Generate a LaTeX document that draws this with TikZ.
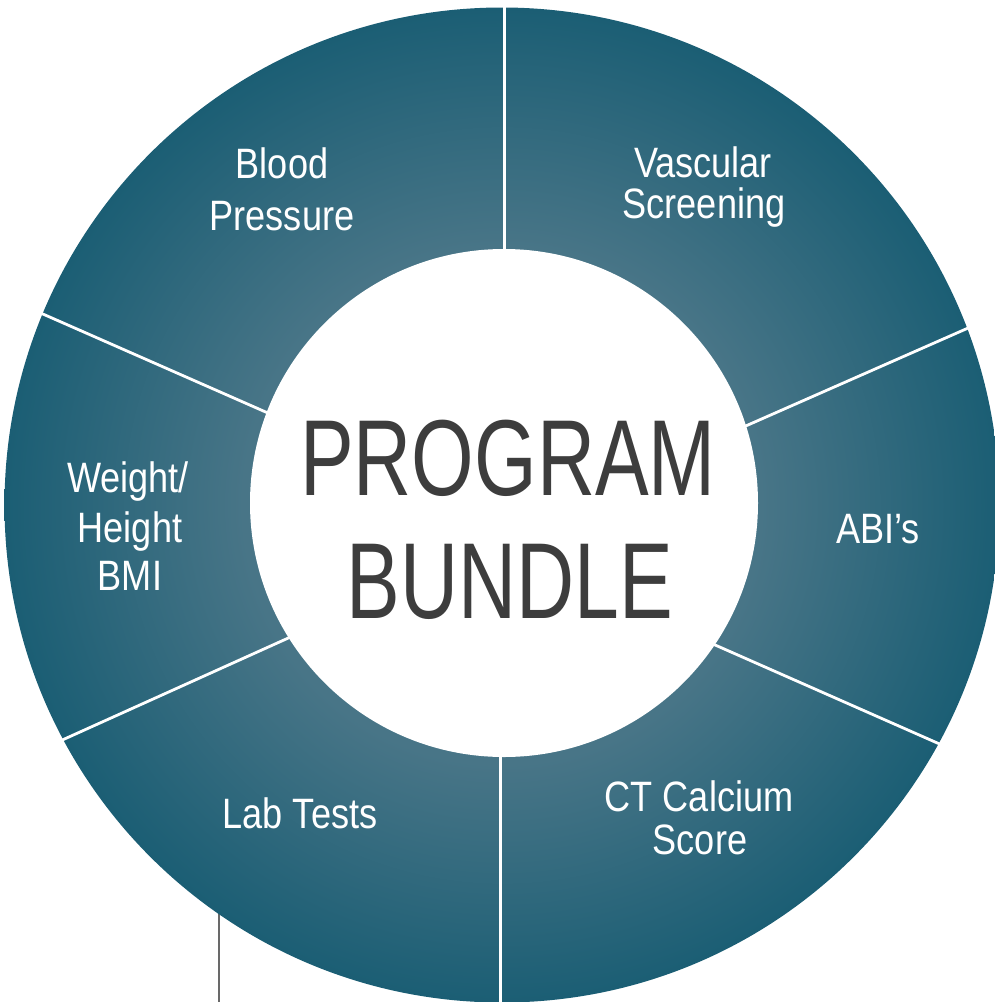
\documentclass[tikz,border=0pt]{standalone}
\usepackage{fontspec}
\setmainfont{Liberation Sans}
\newfontfamily\labelfont{Liberation Sans}[FakeStretch=0.85]
\newfontfamily\titlefont{Liberation Sans}[FakeStretch=0.745]
\definecolor{ringdark}{RGB}{27,94,116}
\definecolor{ringlight}{RGB}{72,117,135}
\definecolor{titlegray}{RGB}{61,61,61}
\definecolor{stemgray}{RGB}{105,105,105}
\pgfdeclareradialshading{ringshade}{\pgfpointorigin}{color(0bp)=(ringlight); color(13bp)=(ringlight); color(25bp)=(ringdark); color(50bp)=(ringdark)}
\begin{document}
\begin{tikzpicture}[x=1pt,y=-1pt,
  seplabel/.style={white, anchor=base, inner sep=0pt, font=\labelfont\fontsize{42.5}{42.5}\selectfont},
  titletext/.style={titlegray, anchor=base, inner sep=0pt, font=\titlefont\fontsize{108}{108}\selectfont},
  separator/.style={white, line width=2.8pt},
  stem/.style={stemgray, line width=2.4pt}]
\useasboundingbox (0,0) rectangle (995,1002);
% stem below the ring
\coordinate (stemtop) at (219,880);
\coordinate (stembot) at (219,1002);
\draw[stem] (stemtop) -- (stembot);
% ring
\path[shading=ringshade] (502,505) circle[radius=497.5];
% separator end points
\coordinate (t1) at (504.5,0);   \coordinate (t2) at (504.5,300);
\coordinate (b1) at (500.6,700); \coordinate (b2) at (500.6,1010);
\coordinate (ul1) at (34.0,310.1);  \coordinate (ul2) at (310,431.5);
\coordinate (ll1) at (57.6,742.1);  \coordinate (ll2) at (330,619.2);
\coordinate (ur1) at (980,322.8);   \coordinate (ur2) at (705,443.9);
\coordinate (lr1) at (680,629.5);   \coordinate (lr2) at (948,747.7);
\draw[separator] (t1) -- (t2);
\draw[separator] (b1) -- (b2);
\draw[separator] (ul1) -- (ul2);
\draw[separator] (ll1) -- (ll2);
\draw[separator] (ur1) -- (ur2);
\draw[separator] (lr1) -- (lr2);
% white hub
\node[circle, fill=white, minimum size=508pt, inner sep=0pt] (hub) at (504,503) {};
\node[titletext] (prog) at (508,495) {PROGRAM};
\node[titletext] (bund) at (510,618) {BUNDLE};
% ring labels
\node[seplabel] (bp1) at (282,178) {Blood};
\node[seplabel] (bp2) at (282,230) {Pressure};
\node[seplabel] (vs1) at (703,177) {Vascular};
\node[seplabel] (vs2) at (704,218) {Screening};
\node[seplabel] (abi) at (878,543) {ABI’s};
\node[seplabel] (wh1) at (128,492) {Weight/};
\node[seplabel] (wh2) at (130,542) {Height};
\node[seplabel] (wh3) at (130,590) {BMI};
\node[seplabel] (lab) at (300,828) {Lab Tests};
\node[seplabel] (ct1) at (699,811) {CT Calcium};
\node[seplabel] (ct2) at (700,854) {Score};
\end{tikzpicture}
\end{document}
